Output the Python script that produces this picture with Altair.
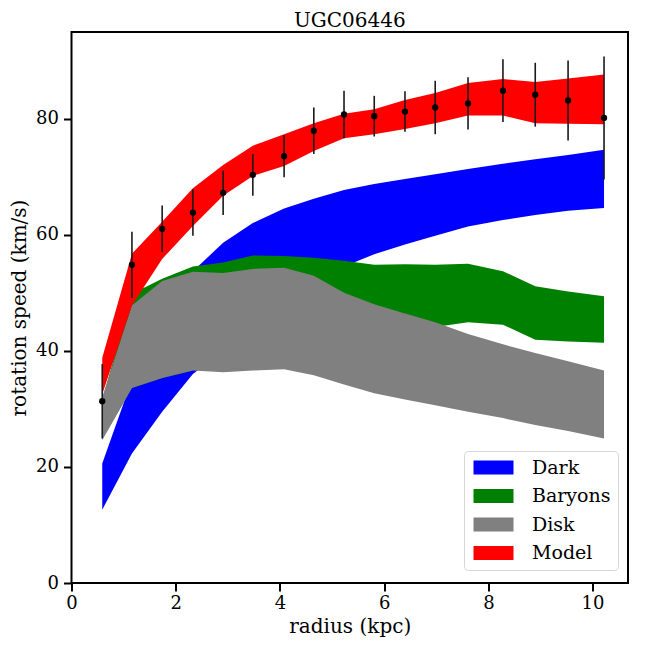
import altair as alt
import pandas as pd

# radius (kpc)
radius = [0.59, 1.16, 1.74, 2.33, 2.91, 3.48, 4.08, 4.65, 5.23, 5.81,
          6.40, 6.98, 7.61, 8.28, 8.90, 9.53, 10.22]

# observed rotation speed and errors (km/s)
v_obs = [31.3, 54.8, 61.0, 63.8, 67.2, 70.3, 73.5, 77.9, 80.7, 80.4,
         81.2, 81.9, 82.6, 84.8, 84.1, 83.1, 80.1]
v_err = [6.4, 5.7, 4.0, 4.0, 3.8, 3.6, 3.6, 4.0, 4.1, 3.5,
         3.5, 4.6, 4.5, 5.4, 5.5, 6.9, 10.6]

# band bounds
dark_lo = [12.6, 22.3, 29.5, 36.0, 40.0, 44.0, 48.0, 51.5, 54.5, 56.6,
           58.3, 59.8, 61.4, 62.5, 63.4, 64.1, 64.6]
dark_hi = [20.6, 35.0, 45.5, 53.7, 58.6, 62.0, 64.5, 66.2, 67.7, 68.7,
           69.6, 70.4, 71.3, 72.2, 73.0, 73.7, 74.6]

bary_lo = [24.8, 33.6, 35.3, 36.6, 38.5, 39.5, 40.2, 41.0, 41.8, 42.5,
           43.3, 44.1, 44.9, 44.5, 41.9, 41.6, 41.4]
bary_hi = [31.5, 49.8, 52.4, 54.5, 55.2, 56.4, 56.3, 56.0, 55.5, 54.8,
           54.9, 54.8, 55.0, 53.7, 51.1, 50.2, 49.4]

disk_lo = [24.6, 33.6, 35.3, 36.6, 36.3, 36.6, 36.8, 35.8, 34.2, 32.7,
           31.6, 30.6, 29.5, 28.4, 27.2, 26.2, 24.9]
disk_hi = [32.0, 47.8, 52.0, 53.6, 53.4, 54.1, 54.3, 52.9, 50.0, 48.0,
           46.4, 44.9, 42.9, 41.1, 39.6, 38.2, 36.6]

model_lo = [32.5, 47.8, 55.8, 61.5, 66.7, 70.1, 71.8, 74.4, 76.6, 77.3,
            78.2, 79.2, 80.5, 80.5, 79.2, 79.1, 79.0]
model_hi = [38.8, 56.7, 62.2, 68.0, 72.0, 75.3, 77.3, 79.2, 80.8, 81.6,
            83.2, 84.4, 86.1, 86.8, 86.3, 86.9, 87.6]

series = ["Dark", "Baryons", "Disk", "Model"]
colors = ["#0000ff", "#008000", "#808080", "#ff0000"]
bounds = {"Dark": (dark_lo, dark_hi), "Baryons": (bary_lo, bary_hi),
          "Disk": (disk_lo, disk_hi), "Model": (model_lo, model_hi)}

FONT = "DejaVu Serif"

xscale = alt.Scale(domain=[0, 10.68], nice=False, zero=False)
yscale = alt.Scale(domain=[0, 94.9], nice=False, zero=False)
xaxis = alt.Axis(values=[0, 2, 4, 6, 8, 10], title="radius (kpc)", format="d",
                 labelFlush=False)
yaxis = alt.Axis(values=[0, 20, 40, 60, 80], title="rotation speed (km/s)", format="d",
                 labelFlush=False)

color_scale = alt.Scale(domain=series, range=colors)
legend = alt.Legend(
    title=None, orient="none", legendX=392.5, legendY=419,
    symbolType="M-1,-1L4.714,-1L4.714,1L-1,1Z", symbolSize=196,
    symbolStrokeWidth=0, symbolOpacity=1,
    labelFont=FONT, labelFontSize=19, labelColor="black", labelOffset=42,
    rowPadding=8.5, padding=7, fillColor="white", strokeColor="#d6d6d6",
    cornerRadius=4,
)

layers = []
for s in series:
    lo, hi = bounds[s]
    d = pd.DataFrame({"x": radius, "lo": lo, "hi": hi, "s": s})
    layers.append(alt.Chart(d).mark_area(opacity=1, interpolate="linear").encode(
        x=alt.X("x:Q", scale=xscale, axis=xaxis),
        y=alt.Y("lo:Q", scale=yscale, axis=yaxis),
        y2="hi:Q",
        color=alt.Color("s:N", scale=color_scale, legend=legend),
    ))

obs = pd.DataFrame({"x": radius, "v": v_obs, "e": v_err})
obs["lo"] = obs["v"] - obs["e"]
obs["hi"] = obs["v"] + obs["e"]

err = alt.Chart(obs).mark_rule(color="#1a1a1a", strokeWidth=1.6).encode(
    x=alt.X("x:Q", scale=xscale, axis=xaxis),
    y=alt.Y("lo:Q", scale=yscale, axis=yaxis), y2="hi:Q")
pts = alt.Chart(obs).mark_circle(color="black", size=40, opacity=1).encode(
    x=alt.X("x:Q", scale=xscale, axis=xaxis),
    y=alt.Y("v:Q", scale=yscale, axis=yaxis))

chart = alt.layer(*layers, err, pts).properties(
    width=556.5, height=551,
    title=alt.TitleParams("UGC06446", font=FONT, fontSize=20, fontWeight="normal",
                          color="black", offset=1),
    autosize=alt.AutoSizeParams(type="none"),
    padding={"left": 63.5, "top": 24, "right": 12, "bottom": 57},
).configure_view(
    stroke="black", strokeWidth=2
).configure_axis(
    grid=False, domain=False, ticks=True, tickSize=8, tickWidth=2, tickColor="black",
    labelFont=FONT, labelFontSize=18, labelColor="black",
    titleFont=FONT, titleFontSize=20, titleFontWeight="normal", titleColor="black",
).configure_axisX(
    labelPadding=3, titlePadding=4
).configure_axisY(
    labelPadding=5, titlePadding=6
)

chart.save("out.html", embed_options={"renderer": "svg", "actions": False})
